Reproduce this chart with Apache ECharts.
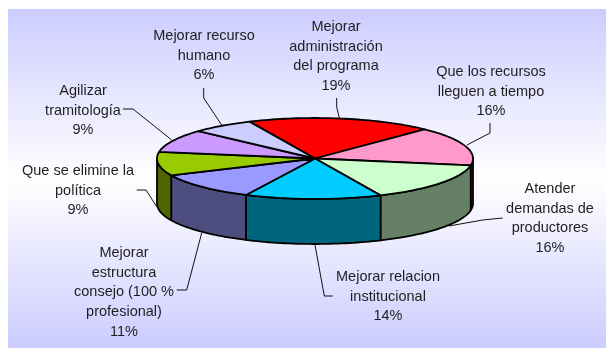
<!DOCTYPE html>
<html><head><meta charset="utf-8">
<style>html,body{margin:0;padding:0;background:#fff}#c{width:606px;height:348px}</style>
<script src="https://cdn.jsdelivr.net/npm/echarts@6/dist/echarts.min.js"></script>
</head><body><div id="c"></div>
<script>
const categories = ['Mejorar\nadministración\ndel programa','Que los recursos\nlleguen a tiempo','Atender\ndemandas de\nproductores','Mejorar relacion\ninstitucional','Mejorar\nestructura\nconsejo (100 %\nprofesional)','Que se elimine la\npolítica','Agilizar\ntramitología','Mejorar recurso\nhumano'];
const values = [19.0,15.5,15.5,14.0,11.0,9.4,9.2,6.4];
const topColors = ['#ff0000','#ff99cc','#ccffcc','#00ccff','#9999ff','#99cc00','#cc99ff','#ccccff'];
const sideColors = ['#800000','#804d66','#668066','#006680','#4d4d80','#4d6600','#664d80','#666680'];
// layout only: label centre x, first-line y; leader elbow points
const labelPos = [[336,17],[491,62],[550,179],[388,267],[124,243],[78,161],[83,81],[204,26]];
const leaders = [[[336.7,98],[336.7,107],[339.3,118]],[[490,123],[490,133],[467,145]],[[502.7,218],[482.7,220],[449,226]],[[332.7,296],[324.3,296],[315,245]],[[176.7,290],[186.7,290],[201.7,233]],[[136.7,190],[146,190],[156.7,206.7]],[[123,109],[133,109],[171.7,140]],[[203.7,88],[203.7,98],[221.7,125]]];
const pie = {cx:315,cy:158.5,a:158,b:40.5,depth:45,start:-24.5};
const total = values.reduce((s,v)=>s+v,0);
const rad = d=>d*Math.PI/180;
const pt = (deg,dy=0)=>[pie.cx+pie.a*Math.sin(rad(deg)),pie.cy-pie.b*Math.cos(rad(deg))+dy];
function arc(from,to,dy=0){const n=Math.max(2,Math.ceil(Math.abs(to-from)/1.5));const r=[];for(let i=0;i<=n;i++)r.push(pt(from+(to-from)*i/n,dy));return r;}
const rows=[];let acc=pie.start;
values.forEach((v,i)=>{const s=acc,e=acc+v/total*360;acc=e;rows.push([i,v,s,e]);});
const stroke={stroke:'#000',lineWidth:1.8,lineJoin:'round'};
function renderItem(params,api){
  const i=api.value(0),s=api.value(2),e=api.value(3),children=[];
  const ws=Math.max(s,90),we=Math.min(e,270);
  if(we>ws){const pts=arc(ws,we).concat(arc(we,ws,pie.depth));
    children.push({type:'polygon',z2:1,shape:{points:pts},style:{fill:sideColors[i],...stroke}});}
  children.push({type:'polygon',z2:2,shape:{points:[[pie.cx,pie.cy]].concat(arc(s,e))},style:{fill:topColors[i],...stroke}});
  children.push({type:'polyline',z2:0,shape:{points:leaders[i]},style:{fill:null,stroke:'#111',lineWidth:1}});
  children.push({type:'text',z2:3,style:{text:categories[i]+'\n'+Math.round(api.value(1))+'%',x:labelPos[i][0],y:labelPos[i][1],align:'center',verticalAlign:'top',fill:'#1f1f1f',font:'14.5px "Liberation Sans", Arial, sans-serif',lineHeight:19.7}});
  return {type:'group',children};
}
const chart=echarts.init(document.getElementById('c'),null,{renderer:'canvas'});
chart.setOption({animation:false,
 graphic:[{type:'rect',z:-10,shape:{x:8,y:9,width:598,height:339},style:{fill:new echarts.graphic.LinearGradient(0,0,0,1,[{offset:0,color:'#ccccff'},{offset:.5,color:'#ffffff'},{offset:1,color:'#ccccff'}])}}],
 series:[{type:'custom',coordinateSystem:'none',renderItem,data:rows,silent:true,clip:false}]});
</script></body></html>
